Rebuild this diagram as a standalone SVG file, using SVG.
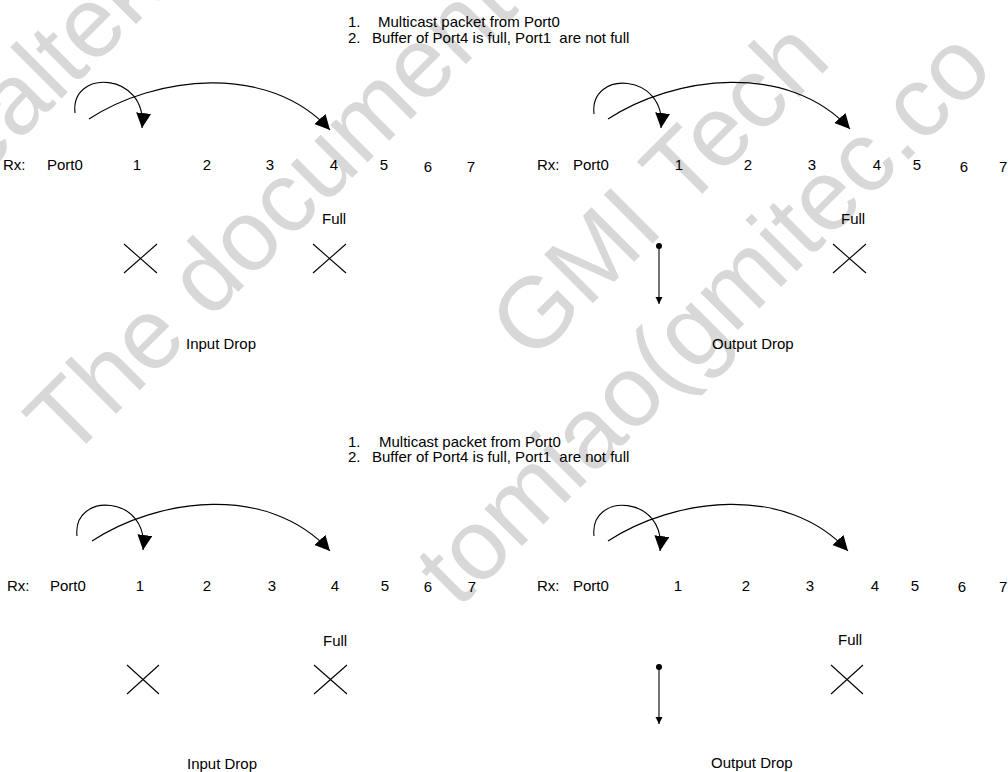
<svg xmlns="http://www.w3.org/2000/svg" width="1008" height="772" viewBox="0 0 1008 772">
<style>
text{font-family:"Liberation Sans",Arial,sans-serif;font-size:15px;fill:#000}
.wm{font-size:100px;fill:#d8d8d8}
.c{text-anchor:middle}
.arc{fill:none;stroke:#000;stroke-width:1.1}
.x{stroke:#000;stroke-width:1.1;fill:none}
.drop{stroke:#000;stroke-width:1.1;fill:none}
</style>
<defs>
<marker id="big" markerUnits="userSpaceOnUse" markerWidth="17" markerHeight="17" refX="15" refY="7.5" orient="auto"><path d="M0,0 L15,7.5 L0,15 z" fill="#000"/></marker>
<marker id="small" markerUnits="userSpaceOnUse" markerWidth="8" markerHeight="8" refX="7" refY="3.5" orient="auto"><path d="M0,0 L7,3.5 L0,7 z" fill="#000"/></marker>
<marker id="dot" markerUnits="userSpaceOnUse" markerWidth="8" markerHeight="8" refX="4" refY="4" orient="auto"><circle cx="4" cy="4" r="3" fill="#000"/></marker>
</defs>
<rect width="1008" height="772" fill="#fff"/>
<g id="watermark">
<text class="wm" x="-22" y="182" transform="rotate(-45 -22 182)">ealtek</text>
<text class="wm" x="68" y="462" transform="rotate(-45 68 462)">The document</text>
<text class="wm" x="532" y="364" transform="rotate(-45 532 364)">GMI Tech</text>
<text class="wm" x="458" y="610" transform="rotate(-45 458 610)">tomiao(gmitec.co</text>
</g>
<g id="header-top">
<text x="348" y="27">1.</text><text x="378" y="27">Multicast packet from Port0</text>
<text x="348" y="43">2.</text><text x="372" y="43" xml:space="preserve">Buffer of Port4 is full, Port1  are not full</text>
</g>
<g id="panel-top-input">
<text x="3" y="170">Rx:</text><text x="47" y="170">Port0</text>
<text class="c" x="137" y="170">1</text><text class="c" x="207" y="170">2</text><text class="c" x="270" y="170">3</text><text class="c" x="334" y="170">4</text><text class="c" x="384" y="170">5</text><text class="c" x="428" y="172">6</text><text class="c" x="471" y="172">7</text>
<text x="322" y="224">Full</text>
<path class="x" d="M124,244 L157,273 M157,244 L124,273"/>
<path class="x" d="M313,244 L346,273 M346,244 L313,273"/>
<text x="186" y="349">Input Drop</text>
</g>
<g id="panel-top-output">
<text x="537" y="170">Rx:</text><text x="573" y="170">Port0</text>
<text class="c" x="679" y="170">1</text><text class="c" x="748" y="170">2</text><text class="c" x="812" y="170">3</text><text class="c" x="877" y="170">4</text><text class="c" x="917" y="170">5</text><text class="c" x="964" y="172">6</text><text x="999" y="172">7</text>
<text x="841" y="224">Full</text>
<path class="x" d="M833,244 L866,273 M866,244 L833,273"/>
<text x="712" y="349">Output Drop</text>
</g>
<g id="header-bottom">
<text x="348" y="447">1.</text><text x="379" y="447">Multicast packet from Port0</text>
<text x="348" y="462">2.</text><text x="372" y="462" xml:space="preserve">Buffer of Port4 is full, Port1  are not full</text>
</g>
<g id="panel-bottom-input">
<text x="7" y="591">Rx:</text><text x="50" y="591">Port0</text>
<text class="c" x="140" y="591">1</text><text class="c" x="207" y="591">2</text><text class="c" x="272" y="591">3</text><text class="c" x="335" y="591">4</text><text class="c" x="385" y="591">5</text><text class="c" x="428" y="592">6</text><text class="c" x="472" y="592">7</text>
<text x="323" y="646">Full</text>
<path class="x" d="M127,665 L159,694 M159,665 L127,694"/>
<path class="x" d="M314,665 L347,694 M347,665 L314,694"/>
<text x="187" y="769">Input Drop</text>
</g>
<g id="panel-bottom-output">
<text x="537" y="591">Rx:</text><text x="573" y="591">Port0</text>
<text class="c" x="678" y="591">1</text><text class="c" x="746" y="591">2</text><text class="c" x="810" y="591">3</text><text class="c" x="875" y="591">4</text><text class="c" x="915" y="591">5</text><text class="c" x="962" y="592">6</text><text x="999" y="592">7</text>
<text x="838" y="645">Full</text>
<path class="x" d="M831,665 L863,694 M863,665 L831,694"/>
<text x="711" y="768">Output Drop</text>
</g>
<g id="connectors">
<path class="arc" marker-end="url(#big)" d="M75,113 C70,68 148,72 142,128"/>
<path class="arc" marker-end="url(#big)" d="M89,119 C155,76 268,62 330,130"/>
<path class="arc" marker-end="url(#big)" d="M594,114 C589,69 667,73 661,128"/>
<path class="arc" marker-end="url(#big)" d="M608,119 C674,76 788,61 850,129"/>
<path class="arc" marker-end="url(#big)" d="M77,536 C72,491 150,495 143,550"/>
<path class="arc" marker-end="url(#big)" d="M92,541 C158,498 268,483 330,551"/>
<path class="arc" marker-end="url(#big)" d="M594,536 C589,491 667,495 660,551"/>
<path class="arc" marker-end="url(#big)" d="M608,541 C674,498 786,483 848,551"/>
<path class="drop" marker-start="url(#dot)" marker-end="url(#small)" d="M659,246 L659,304"/>
<path class="drop" marker-start="url(#dot)" marker-end="url(#small)" d="M659,667 L659,724"/>
</g>
</svg>
